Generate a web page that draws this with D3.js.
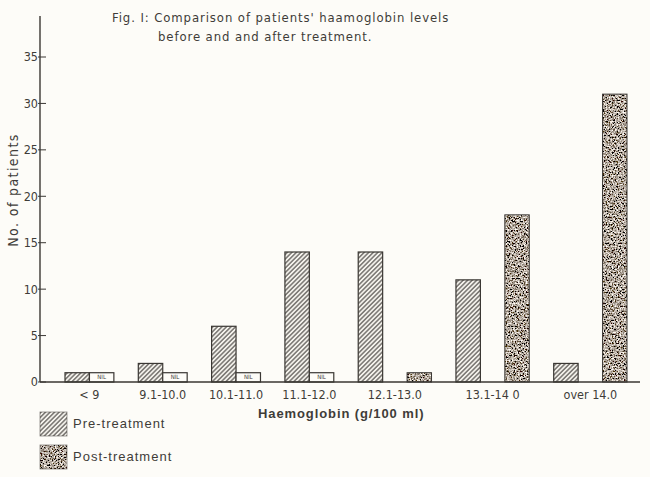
<!DOCTYPE html>
<html>
<head>
<meta charset="utf-8">
<script src="https://cdn.jsdelivr.net/npm/d3@7"></script>
<style>
  body { margin: 0; background: #fdfcf8; }
  svg { display: block; }
  text { font-family: "Liberation Sans Narrow", "DejaVu Sans Condensed", "Liberation Sans", sans-serif; fill: #3f3c38; }
</style>
</head>
<body>
<svg id="chart" width="650" height="477"></svg>
<script>
// data
var categories = ["< 9", "9.1-10.0", "10.1-11.0", "11.1-12.0", "12.1-13.0", "13.1-14 0", "over 14.0"];
var preTreatment = [1, 2, 6, 14, 14, 11, 2];
var postTreatment = [null, null, null, null, 1, 18, 31]; // null = "NIL"
var yTicks = [0, 5, 10, 15, 20, 25, 30, 35];
var titleLines = ["Fig. I:  Comparison of patients' haamoglobin levels", "before and and after treatment."];

var svg = d3.select("#chart"),
	ink = "#3a3733";

// layout in bar-widths: pre, (gap), post, then a gap before next group
var groups = [], u = 0;
for (var i = 0; i < categories.length; i++) {
	var nil = postTreatment[i] === null;
	groups.push({
		cat: categories[i],
		pre: preTreatment[i],
		post: postTreatment[i],
		nil: nil,
		start: u,
		postStart: nil ? u + 1 : u + 2,
		center: nil ? u + 1 : u + 1.5
	});
	u += (nil ? 2 : 3) + 1;
}

var x = d3.scaleLinear().domain([0, u - 1]).range([65, 627]);
var y = d3.scaleLinear().domain([0, 35]).range([382, 57]);
var bw = x(1) - x(0);
var axisX = 40;

var defs = svg.append("defs");
var hatch = defs.append("pattern")
	.attr("id", "hatch")
	.attr("patternUnits", "userSpaceOnUse")
	.attr("width", 3.2).attr("height", 3.2)
	.attr("patternTransform", "rotate(45)");
hatch.append("rect").attr("width", 3.2).attr("height", 3.2).attr("fill", "#f4f2ec");
hatch.append("line").attr("x1", 0.8).attr("y1", 0).attr("x2", 0.8).attr("y2", 3.2)
	.attr("stroke", "#3a3733").attr("stroke-width", 1);

var grain = defs.append("filter").attr("id", "grain")
	.attr("x", 0).attr("y", 0).attr("width", 1).attr("height", 1);
grain.append("feTurbulence").attr("type", "fractalNoise")
	.attr("baseFrequency", 0.65).attr("numOctaves", 2).attr("seed", 7).attr("result", "n");
grain.append("feColorMatrix").attr("in", "n").attr("type", "matrix")
	.attr("values", "2.6 0 0 0 -0.86  2.5 0 0 0 -0.86  2.4 0 0 0 -0.86  0 0 0 0 1")
	.attr("result", "g");
grain.append("feComposite").attr("in", "g").attr("in2", "SourceGraphic").attr("operator", "in");

// title
svg.append("text").attr("x", 112).attr("y", 22)
	.style("font-size", "13px").style("letter-spacing", "0.9px")
	.text(titleLines[0]);
svg.append("text").attr("x", 158).attr("y", 41)
	.style("font-size", "13px").style("letter-spacing", "0.9px")
	.text(titleLines[1]);

// y axis
svg.append("line").attr("x1", axisX).attr("x2", axisX).attr("y1", 16).attr("y2", y(0))
	.attr("stroke", ink).attr("stroke-width", 1.4);
var yt = svg.selectAll(".ytick").data(yTicks).enter().append("g")
	.attr("class", "ytick")
	.attr("transform", function(d) { return "translate(0," + y(d) + ")"; });
yt.append("line").attr("x1", axisX - 2).attr("x2", axisX + 6).attr("stroke", ink).attr("stroke-width", 1);
yt.append("text").attr("x", axisX - 2).attr("dy", "0.35em").attr("text-anchor", "end")
	.style("font-size", "12.5px").text(function(d) { return d; });

svg.append("text")
	.attr("transform", "translate(18,190) rotate(-90)")
	.attr("text-anchor", "middle")
	.style("font-size", "14px").style("letter-spacing", "1.4px")
	.text("No. of patients");

// bars
var g = svg.selectAll(".grp").data(groups).enter().append("g").attr("class", "grp");

g.append("rect")
	.attr("x", function(d) { return x(d.start); })
	.attr("y", function(d) { return y(d.pre); })
	.attr("width", bw)
	.attr("height", function(d) { return y(0) - y(d.pre); })
	.attr("fill", "url(#hatch)")
	.attr("stroke", ink).attr("stroke-width", 1.2);

var nilG = g.filter(function(d) { return d.nil; });
nilG.append("rect")
	.attr("x", function(d) { return x(d.postStart); })
	.attr("y", y(1))
	.attr("width", bw)
	.attr("height", y(0) - y(1))
	.attr("fill", "#fdfcf8")
	.attr("stroke", ink).attr("stroke-width", 1.2);
nilG.append("text")
	.attr("x", function(d) { return x(d.postStart) + bw / 2; })
	.attr("y", y(0.5))
	.attr("dy", "0.35em")
	.attr("text-anchor", "middle")
	.style("font-size", "6px")
	.text("NIL");

var postG = g.filter(function(d) { return !d.nil; });
postG.append("rect")
	.attr("x", function(d) { return x(d.postStart); })
	.attr("y", function(d) { return y(d.post); })
	.attr("width", bw)
	.attr("height", function(d) { return y(0) - y(d.post); })
	.attr("fill", "#777")
	.attr("filter", "url(#grain)");
postG.append("rect")
	.attr("x", function(d) { return x(d.postStart); })
	.attr("y", function(d) { return y(d.post); })
	.attr("width", bw)
	.attr("height", function(d) { return y(0) - y(d.post); })
	.attr("fill", "none")
	.attr("stroke", ink).attr("stroke-width", 1);

// x axis
svg.append("line").attr("x1", axisX).attr("x2", 640).attr("y1", y(0)).attr("y2", y(0))
	.attr("stroke", ink).attr("stroke-width", 1.6);
g.append("text")
	.attr("x", function(d) { return x(d.center); })
	.attr("y", 399)
	.attr("text-anchor", "middle")
	.style("font-size", "12.5px")
	.text(function(d) { return d.cat; });

svg.append("text").attr("x", 258).attr("y", 418)
	.style("font-size", "13px").style("font-weight", "bold").style("letter-spacing", "0.9px")
	.style("font-family", "'Liberation Sans', sans-serif")
	.text("Haemoglobin (g/100 ml)");

// legend
var legend = [
	{ label: "Pre-treatment", type: "pre" },
	{ label: "Post-treatment", type: "post" }
];
var lg = svg.selectAll(".leg").data(legend).enter().append("g")
	.attr("class", "leg")
	.attr("transform", function(d, i) { return "translate(40," + (412 + i * 33) + ")"; });
lg.append("rect").attr("width", 27).attr("height", 24)
	.attr("fill", function(d) { return d.type == "pre" ? "url(#hatch)" : "#777"; })
	.attr("filter", function(d) { return d.type == "pre" ? null : "url(#grain)"; });
lg.append("rect").attr("width", 27).attr("height", 24)
	.attr("fill", "none").attr("stroke", ink).attr("stroke-width", 0.8).attr("stroke-opacity", 0.6);
lg.append("text").attr("x", 33).attr("y", 16)
	.style("font-size", "13px").style("letter-spacing", "1px")
	.style("font-family", "'Liberation Sans', sans-serif")
	.text(function(d) { return d.label; });
</script>
</body>
</html>
